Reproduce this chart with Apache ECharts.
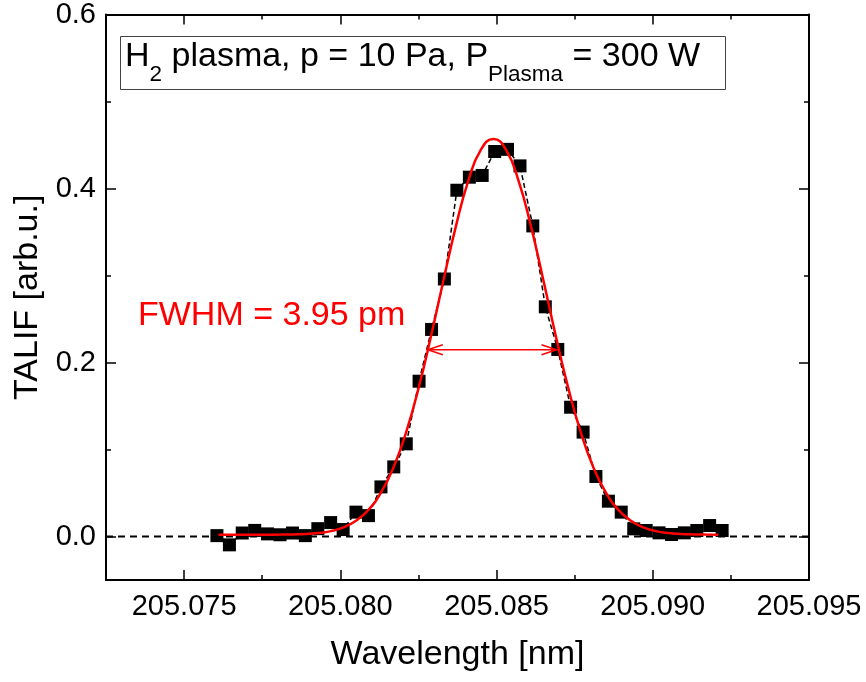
<!DOCTYPE html>
<html>
<head>
<meta charset="utf-8">
<script src="https://cdn.jsdelivr.net/npm/echarts@6/dist/echarts.min.js"></script>
<style>
html,body{margin:0;padding:0;background:#fff;}
#main{width:866px;height:682px;}
</style>
</head>
<body>
<div id="main"></div>
<script>
// Measured TALIF data (wavelength in nm, signal in arb.u.)
const wavelength = [205.07605, 205.07645, 205.07686, 205.07726, 205.07767, 205.07807, 205.07847, 205.07888, 205.07928, 205.07969,
  205.08009, 205.0805, 205.0809, 205.0813, 205.08171, 205.08211, 205.08252, 205.08292, 205.08333, 205.08373,
  205.08413, 205.08454, 205.08494, 205.08535, 205.08575, 205.08616, 205.08656, 205.08696, 205.08737, 205.08777,
  205.08818, 205.08858, 205.08899, 205.08939, 205.08979, 205.0902, 205.0906, 205.09101, 205.09141, 205.09182, 205.09222];
const talif = [0.001, -0.0096, 0.004, 0.007, 0.003, 0.002, 0.004, 0.001, 0.009, 0.016,
  0.008, 0.028, 0.024, 0.057, 0.080, 0.1065, 0.1785, 0.238, 0.296, 0.398,
  0.413, 0.415, 0.4425, 0.445, 0.426, 0.357, 0.264, 0.215, 0.1486, 0.120,
  0.069, 0.0406, 0.028, 0.0088, 0.0069, 0.0042, 0.0023, 0.0042, 0.0069, 0.0126, 0.0069];

// Fit curve
const fitX = [205.0761, 205.0765, 205.0769, 205.0773, 205.0777, 205.0781, 205.0785, 205.0789, 205.0793, 205.0797,
  205.0801, 205.0805, 205.0809, 205.0813, 205.0817, 205.0821, 205.0825, 205.0829, 205.0833, 205.0837,
  205.0841, 205.0845, 205.0849, 205.0853, 205.0857, 205.0861, 205.0865, 205.0869, 205.0873, 205.0877,
  205.0881, 205.0885, 205.0889, 205.0893, 205.0897, 205.0901, 205.0905, 205.0909, 205.0913, 205.0917, 205.0921];
const fitY = [0.0020, 0.0020, 0.0020, 0.0020, 0.0021, 0.0022, 0.0024, 0.0029, 0.0040, 0.0062,
  0.0104, 0.0180, 0.0306, 0.0503, 0.0794, 0.1192, 0.1700, 0.2298, 0.2942, 0.3567,
  0.4093, 0.4446, 0.4570, 0.4446, 0.4093, 0.3567, 0.2942, 0.2298, 0.1700, 0.1192,
  0.0794, 0.0503, 0.0306, 0.0180, 0.0104, 0.0062, 0.0040, 0.0029, 0.0024, 0.0022, 0.0021];

// FWHM arrow: [x start, x end, y]
const fwhmArrow = [[205.0828, 205.08692, 0.2146]];
const zeroLine = [[205.0725, 0], [205.095, 0]];

const xMajor = [205.075, 205.080, 205.085, 205.090, 205.095];
const xMinor = [205.0775, 205.0825, 205.0875, 205.0925];
const yMajor = [0.0, 0.2, 0.4, 0.6];
const yMinor = [0.1, 0.3, 0.5];

const FONT = '"Liberation Sans", Arial, sans-serif';
const X_MIN = 205.0725, X_MAX = 205.095, Y_MIN = -0.05, Y_MAX = 0.6;

const chart = echarts.init(document.getElementById('main'), null, {renderer: 'canvas'});

function xAx(pos, ticks, len, showLabel, showLine, extra) {
  return Object.assign({
    type: 'value', min: X_MIN, max: X_MAX, position: pos,
    axisLine: {show: showLine, onZero: false, lineStyle: {color: '#000', width: 2}},
    axisTick: {show: true, inside: true, length: len, customValues: ticks, lineStyle: {color: '#000', width: 1.5}},
    axisLabel: showLabel ? {show: true, customValues: ticks, fontFamily: FONT, fontSize: 29, color: '#000', margin: 12,
      formatter: v => Number(v).toFixed(3)} : {show: false},
    splitLine: {show: false}
  }, extra || {});
}
function yAx(pos, ticks, len, showLabel, showLine, extra) {
  return Object.assign({
    type: 'value', min: Y_MIN, max: Y_MAX, position: pos,
    axisLine: {show: showLine, onZero: false, lineStyle: {color: '#000', width: 2}},
    axisTick: {show: true, inside: true, length: len, customValues: ticks, lineStyle: {color: '#000', width: 1.5}},
    axisLabel: showLabel ? {show: true, customValues: ticks, fontFamily: FONT, fontSize: 29, color: '#000', margin: 10,
      formatter: v => Number(v).toFixed(1)} : {show: false},
    splitLine: {show: false}
  }, extra || {});
}

const option = {
  backgroundColor: '#fff',
  animation: false,
  grid: {left: 106, right: 57, top: 14, bottom: 102, containLabel: false},
  xAxis: [
    xAx('bottom', xMajor, 10, true, true, {name: 'Wavelength [nm]', nameLocation: 'middle', nameGap: 58,
      nameTextStyle: {fontFamily: FONT, fontSize: 34, color: '#000'}}),
    xAx('bottom', xMinor, 5, false, false),
    xAx('top', xMajor, 10, false, true),
    xAx('top', xMinor, 5, false, false)
  ],
  yAxis: [
    yAx('left', yMajor, 10, true, true, {name: 'TALIF [arb.u.]', nameLocation: 'middle', nameGap: 61,
      nameTextStyle: {fontFamily: FONT, fontSize: 34, color: '#000'}}),
    yAx('left', yMinor, 5, false, false),
    yAx('right', yMajor, 10, false, true),
    yAx('right', yMinor, 5, false, false)
  ],
  series: [
    {
      type: 'line', data: zeroLine, symbol: 'none', silent: true,
      lineStyle: {color: '#000', width: 2, type: [7, 5]}, z: 1
    },
    {
      type: 'line', data: wavelength.map((x, i) => [x, talif[i]]),
      symbol: 'rect', symbolSize: 13, showSymbol: true,
      itemStyle: {color: '#000'},
      lineStyle: {color: '#000', width: 1.5, type: [5, 3]}, z: 2
    },
    {
      type: 'line', data: fitX.map((x, i) => [x, fitY[i]]), smooth: true, symbol: 'none',
      lineStyle: {color: '#ff0000', width: 2.5}, z: 3
    },
    {
      type: 'custom', data: fwhmArrow, z: 4,
      renderItem: function (params, api) {
        const p1 = api.coord([api.value(0), api.value(2)]);
        const p2 = api.coord([api.value(1), api.value(2)]);
        const L = 15, H = 5;
        const st = {stroke: '#ff0000', lineWidth: 1.5, fill: null};
        return {
          type: 'group',
          children: [
            {type: 'line', shape: {x1: p1[0], y1: p1[1], x2: p2[0], y2: p2[1]}, style: st},
            {type: 'polyline', shape: {points: [[p1[0] + L, p1[1] - H], [p1[0], p1[1]], [p1[0] + L, p1[1] + H]]}, style: st},
            {type: 'polyline', shape: {points: [[p2[0] - L, p2[1] - H], [p2[0], p2[1]], [p2[0] - L, p2[1] + H]]}, style: st}
          ]
        };
      }
    }
  ],
  graphic: [
    {
      type: 'rect', left: 120, top: 36, shape: {width: 605, height: 53},
      style: {fill: '#fff', stroke: '#444', lineWidth: 1}, z: 10
    },
    {
      type: 'text', left: 125, top: 40, z: 11,
      style: {
        text: '{n|H}{s|2}{n| plasma, p = 10 Pa, P}{s|Plasma}{n| = 300 W}',
        rich: {
          n: {fontFamily: FONT, fontSize: 34, color: '#000', lineHeight: 58, verticalAlign: 'middle'},
          s: {fontFamily: FONT, fontSize: 22.5, color: '#000', lineHeight: 22, verticalAlign: 'bottom'}
        }
      }
    },
    {
      type: 'text', left: 138, top: 299, z: 11,
      style: {text: 'FWHM = 3.95 pm', fontFamily: FONT, fontSize: 34, fill: '#ff0000'}
    }
  ]
};
chart.setOption(option);
</script>
</body>
</html>
